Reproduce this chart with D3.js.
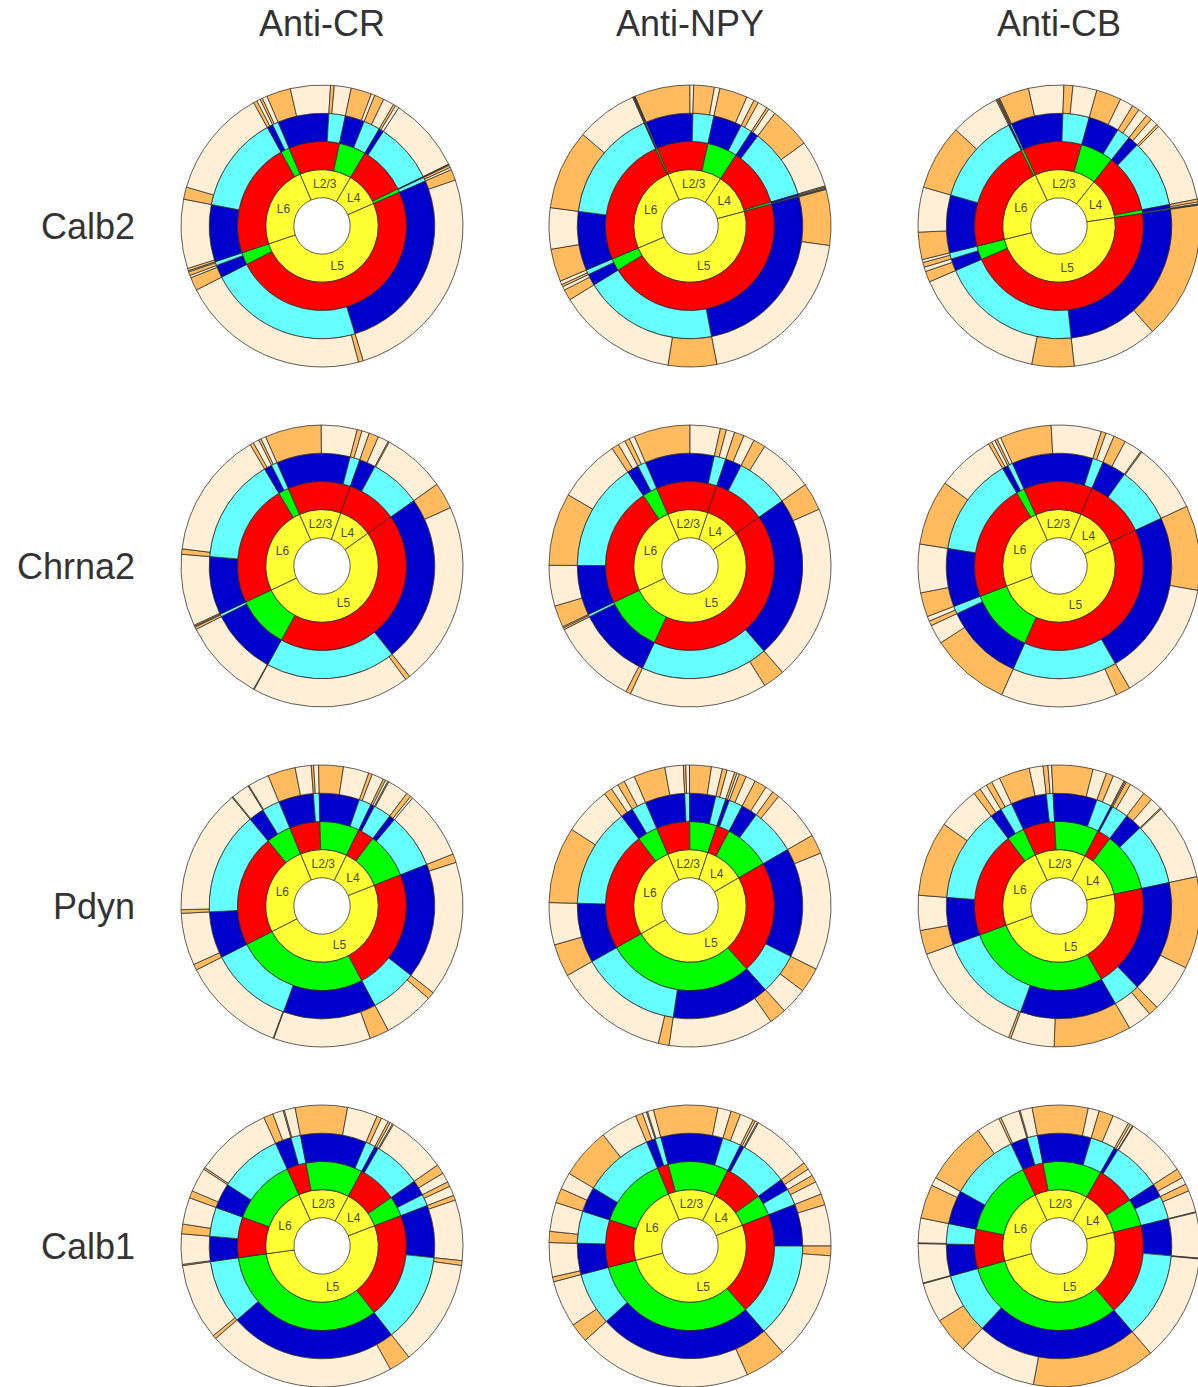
<!DOCTYPE html>
<html>
<head>
<meta charset="utf-8">
<script src="https://cdn.jsdelivr.net/npm/d3@7"></script>
<style>
  body { margin: 0; background: #fff; }
  svg { display: block; }
</style>
</head>
<body>
<svg id="chart" width="1198" height="1387"></svg>
<script>
// Column headers (antibody stains) and row headers (marker genes)
const antibodies = ["Anti-CR", "Anti-NPY", "Anti-CB"];
const genes = ["Calb2", "Chrna2", "Pdyn", "Calb1"];
const layers = ["L2/3", "L4", "L5", "L6"];

// Leaf shares of each sunburst (each panel sums to 360).
// Per layer, 8 leaves in order:
// gene+ / stain+ / sub+, gene+ / stain+ / sub-, gene+ / stain- / sub+, gene+ / stain- / sub-,
// gene- / stain+ / sub+, gene- / stain+ / sub-, gene- / stain- / sub+, gene- / stain- / sub-
const calb2_CR = [
  10, 16.5, 1.5, 7, 8.5, 1.5, 4, 4.5,
  1, 1.5, 0, 31, 0.2, 0.3, 1, 1,
  4.5, 92, 2, 78, 5.5, 1, 1.5, 0.5,
  1, 28.5, 5, 45, 1.5, 1.5, 1, 2
];
const calb2_NPY = [
  23, 1.5, 8.5, 2.3, 11.5, 3.2, 2, 4,
  1, 3, 17, 19.5, 0.5, 0.5, 0.2, 0.3,
  23, 71, 20, 49.5, 4.5, 1.5, 1, 1.5,
  13.5, 17, 33, 25.5, 0.3, 0.3, 0.2, 0.2
];
const calb2_CB = [
  12.5, 14.5, 3.7, 9.9, 10.3, 5.6, 3, 3.9,
  2.5, 3.1, 1, 34, 1.2, 0.8, 0.3, 0.2,
  57, 35.3, 17.4, 55.5, 4.5, 1.8, 2, 1.2,
  11.3, 18.5, 27, 20.5, 0.5, 0.3, 0.4, 0.3
];
const chrna2_CR = [
  23.3, 14.8, 2, 3.1, 0, 0, 0, 0,
  4, 4.4, 0.5, 26.1, 0, 0, 0, 0,
  11, 76, 2, 65.2, 0.3, 34.2, 1, 0.4,
  0.5, 29.6, 2.2, 52.4, 1.5, 2.5, 1, 2
];
const chrna2_NPY = [
  23.3, 12.5, 2.5, 3.5, 0, 0, 0, 0,
  4, 4.5, 5, 22.8, 0, 0, 0, 0,
  11.5, 72.7, 9, 57, 2, 36.2, 0.8, 0.5,
  9, 16.8, 30, 26.2, 3, 3, 2, 2.2
];
const chrna2_CB = [
  21.3, 20.7, 2, 3.5, 0, 0, 0, 0,
  5, 7.5, 0.5, 29, 0, 0, 0, 0,
  35, 50, 6, 48, 33, 8, 2, 2,
  10, 20, 27, 24, 1.5, 1.5, 1, 1.5
];
const pdyn_CR = [
  11.5, 6.6, 1, 2, 10.2, 10.6, 1.5, 4.9,
  1, 1, 0.5, 8.7, 2, 1, 0, 28.4,
  3.6, 56, 3, 21, 8, 40, 0.3, 42.7,
  2.5, 21.5, 1.5, 51.9, 0.4, 7.6, 0.4, 8.7
];
const pdyn_NPY = [
  13, 7.6, 1, 1.5, 9, 4.5, 2, 3.2,
  1, 1, 3, 4.1, 5, 3.4, 3, 21,
  8, 48.6, 10.4, 11, 7, 43.6, 4.4, 47.5,
  13.5, 17.4, 31.5, 19.8, 3.5, 3, 3, 4.5
];
const pdyn_CB = [
  12.8, 5.7, 2, 1.5, 17, 5.7, 3, 4.8,
  0.5, 0.5, 2, 6.5, 4, 5, 0.5, 31.5,
  38, 20, 4, 10, 32, 18, 1, 49,
  10, 14.4, 31, 17.6, 3, 3, 2.5, 3.5
];
const calb1_CR = [
  4, 4.4, 0.5, 4.5, 21.5, 12.5, 2, 3,
  1, 1, 0.5, 24.5, 4, 4, 2, 4,
  2, 25, 2, 44, 9, 78, 1.5, 31.5,
  0.5, 12.5, 4, 11, 3, 10, 0.8, 31.8
];
const calb1_NPY = [
  3, 1.7, 0.5, 2.5, 26.5, 5.5, 4, 5.6,
  1, 1, 0.5, 24.9, 3, 3, 3, 5.4,
  4.6, 17, 4, 45, 17, 72, 8, 19.3,
  2, 14.1, 4.6, 12, 6, 7, 21, 15.3
];
const calb1_CB = [
  1, 7.8, 0.5, 5, 23, 4.6, 6, 6.9,
  1, 1, 0.3, 25.2, 4, 3, 3, 9,
  0.3, 18.7, 0.3, 44.2, 51, 32.5, 15, 16.5,
  0.3, 16.2, 0.3, 10.2, 14, 3.5, 26, 9.7
];

// Panels by row (gene) and column (antibody)
const panels = [
  [calb2_CR, calb2_NPY, calb2_CB],
  [chrna2_CR, chrna2_NPY, chrna2_CB],
  [pdyn_CR, pdyn_NPY, pdyn_CB],
  [calb1_CR, calb1_NPY, calb1_CB]
];
// Angle (degrees, clockwise from 12 o'clock) where L2/3 begins in each panel
const startDeg = [
  [-23, -23, -25],
  [-23.6, -23.3, -24.5],
  [-22.5, -23.3, -25],
  [-24.4, -22.7, -25.3]
];

// Ring colours, inner to outer
const ringColors = [
  ["#FFFF33"],
  ["#FF0000", "#00FF00"],
  ["#0000CC", "#66FFFF"],
  ["#FFBB5E", "#FFEFD6"]
];

const font = "'Liberation Sans', Arial, Helvetica, sans-serif";
const svg = d3.select("#chart");

const colX = [322, 690, 1059];
const rowY = [226, 566, 906, 1246];

// Radial scale: partition depth -> pixel radius
const radius = d3.scaleLinear().domain([0, 5]).range([0, 141]);

function buildTree(leaves) {
  return {
    name: "all",
    children: layers.map((L, li) => ({
      name: L, k: 0,
      children: [0, 1].map(a => ({
        k: a,
        children: [0, 1].map(b => ({
          k: b,
          children: [0, 1].map(c => ({ k: c, value: leaves[li * 8 + a * 4 + b * 2 + c] }))
        }))
      }))
    }))
  };
}

// Column titles
svg.selectAll("text.col")
  .data(antibodies)
  .join("text")
  .attr("class", "col")
  .attr("x", (d, i) => colX[i])
  .attr("y", 36)
  .attr("text-anchor", "middle")
  .attr("font-family", font)
  .attr("font-size", 36)
  .attr("fill", "#333")
  .text(d => d);

// Row titles
svg.selectAll("text.row")
  .data(genes)
  .join("text")
  .attr("class", "row")
  .attr("x", 135)
  .attr("y", (d, i) => rowY[i] + 13)
  .attr("text-anchor", "end")
  .attr("font-family", font)
  .attr("font-size", 36)
  .attr("fill", "#333")
  .text(d => d);

const partition = d3.partition().size([1, 5]);

panels.forEach((row, ri) => {
  row.forEach((leaves, ci) => {
    const root = d3.hierarchy(buildTree(leaves)).sum(d => d.value || 0);
    partition(root);

    const a0 = startDeg[ri][ci] * Math.PI / 180;
    const angle = d3.scaleLinear().domain([0, 1]).range([a0, a0 + 2 * Math.PI]);

    const arc = d3.arc()
      .startAngle(d => angle(d.x0))
      .endAngle(d => angle(d.x1))
      .innerRadius(d => radius(d.y0))
      .outerRadius(d => radius(d.y1));

    const g = svg.append("g")
      .attr("transform", `translate(${colX[ci]},${rowY[ri]})`);

    g.selectAll("path")
      .data(root.descendants().filter(d => d.depth > 0 && d.value > 0))
      .join("path")
      .attr("d", arc)
      .attr("fill", d => ringColors[d.depth - 1][d.data.k])
      .attr("stroke", "#2a2a2a")
      .attr("stroke-width", 0.75)
      .attr("stroke-linejoin", "round");

    g.selectAll("text")
      .data(root.children)
      .join("text")
      .attr("transform", d => `translate(${arc.centroid(d)})`)
      .attr("text-anchor", "middle")
      .attr("dy", "0.36em")
      .attr("font-family", font)
      .attr("font-size", 12)
      .attr("fill", "#4a4a3a")
      .text(d => d.data.name);
  });
});
</script>
</body>
</html>
